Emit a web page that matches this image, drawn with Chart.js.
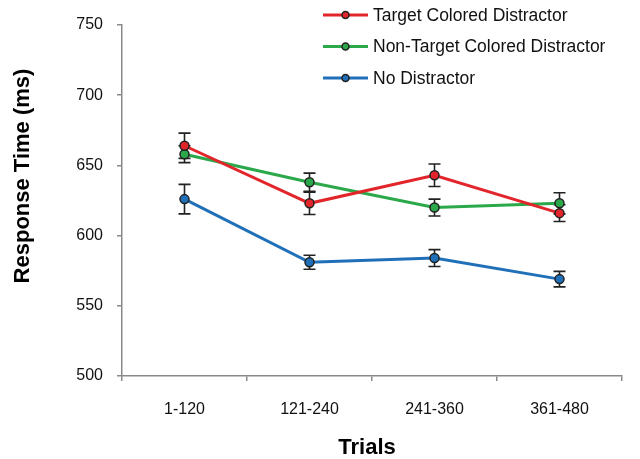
<!DOCTYPE html>
<html>
<head>
<meta charset="utf-8">
<script src="https://cdn.jsdelivr.net/npm/chart.js@4/dist/chart.umd.min.js"></script>
<style>
  html, body { margin: 0; padding: 0; background: #fff; }
  #wrap { width: 640px; height: 459px; position: relative; }
</style>
</head>
<body>
<div id="wrap"><canvas id="rtChart"></canvas></div>
<script>
// data
var trials = ['1-120', '121-240', '241-360', '361-480'];
var targetColored = [664, 623, 643, 616];
var targetColoredErr = [9, 8, 8, 6];
var nonTargetColored = [658, 638, 620, 623];
var nonTargetColoredErr = [6, 6.5, 6, 7.5];
var noDistractor = [626, 581, 584, 569];
var noDistractorErr = [10.5, 5, 6, 5.5];
var yTicks = [500, 550, 600, 650, 700, 750];

var seriesNames = ['Target Colored Distractor', 'Non-Target Colored Distractor', 'No Distractor'];
var seriesColors = ['#e2252b', '#2ba84a', '#1f70b8'];
var errors = [targetColoredErr, nonTargetColoredErr, noDistractorErr];
var fontFamily = '"Liberation Sans", Arial, sans-serif';

// draws the error bars using the chart scales
var errorBars = {
    id: 'errorBars',
    beforeDatasetsDraw: function (chart) {
        var ctx = chart.ctx;
        var y = chart.scales.y;
        ctx.save();
        ctx.strokeStyle = '#222';
        ctx.lineWidth = 1.6;
        chart.data.datasets.forEach(function (ds, i) {
            var meta = chart.getDatasetMeta(i);
            meta.data.forEach(function (pt, j) {
                var v = ds.data[j], e = errors[i][j];
                var top = y.getPixelForValue(v + e);
                var bot = y.getPixelForValue(v - e);
                ctx.beginPath();
                ctx.moveTo(pt.x, top); ctx.lineTo(pt.x, bot);
                ctx.moveTo(pt.x - 6, top); ctx.lineTo(pt.x + 6, top);
                ctx.moveTo(pt.x - 6, bot); ctx.lineTo(pt.x + 6, bot);
                ctx.stroke();
            });
        });
        ctx.restore();
    }
};

// legend drawn inside the plot, top right
var insideLegend = {
    id: 'insideLegend',
    afterDraw: function (chart) {
        var ctx = chart.ctx;
        var area = chart.chartArea;
        var x0 = area.left + 201;
        ctx.save();
        ctx.font = '17.5px ' + fontFamily;
        ctx.textBaseline = 'middle';
        seriesNames.forEach(function (name, i) {
            var yy = area.top - 10 + i * 31.5;
            ctx.strokeStyle = seriesColors[i];
            ctx.lineWidth = 3;
            ctx.beginPath();
            ctx.moveTo(x0, yy); ctx.lineTo(x0 + 45, yy);
            ctx.stroke();
            ctx.beginPath();
            ctx.arc(x0 + 22.5, yy, 3.5, 0, Math.PI * 2);
            ctx.fillStyle = seriesColors[i];
            ctx.fill();
            ctx.lineWidth = 1.5;
            ctx.strokeStyle = '#222';
            ctx.stroke();
            ctx.fillStyle = '#111';
            ctx.fillText(name, x0 + 50, yy + 1);
        });
        ctx.restore();
    }
};

// axis titles, placed like in the original figure
var axisTitles = {
    id: 'axisTitles',
    afterDraw: function (chart) {
        var ctx = chart.ctx;
        ctx.save();
        ctx.font = 'bold 22px ' + fontFamily;
        ctx.fillStyle = '#000';
        ctx.textAlign = 'center';
        ctx.textBaseline = 'middle';
        ctx.fillText('Trials', 367, 448);
        ctx.translate(23, 176);
        ctx.rotate(-Math.PI / 2);
        ctx.fillText('Response Time (ms)', 0, 0);
        ctx.restore();
    }
};

function makeSet(label, data, color) {
    return {
        label: label,
        data: data,
        borderColor: color,
        backgroundColor: color,
        borderWidth: 3,
        pointRadius: 4.5,
        pointBorderColor: '#222',
        pointBorderWidth: 1.5,
        pointBackgroundColor: color,
        tension: 0
    };
}

var ctx = document.getElementById('rtChart').getContext('2d');
new Chart(ctx, {
    type: 'line',
    data: {
        labels: trials,
        datasets: [
            makeSet(seriesNames[0], targetColored, seriesColors[0]),
            makeSet(seriesNames[1], nonTargetColored, seriesColors[1]),
            makeSet(seriesNames[2], noDistractor, seriesColors[2])
        ]
    },
    options: {
        responsive: true,
        maintainAspectRatio: false,
        animation: false,
        layout: { padding: { top: 25, right: 18, left: 0, bottom: 0 } },
        plugins: {
            legend: { display: false },
            tooltip: { enabled: false }
        },
        scales: {
            x: {
                offset: true,
                grid: { offset: true, drawOnChartArea: false, drawTicks: true, tickLength: 5, color: '#8a8a8a', lineWidth: 1.5 },
                border: { color: '#8a8a8a', width: 1.5 },
                ticks: { color: '#111', padding: 19, font: { family: fontFamily, size: 16 } },
                afterFit: function (s) { s.height = 83; }
            },
            y: {
                min: 500,
                max: 750,
                afterBuildTicks: function (s) { s.ticks = yTicks.map(function (v) { return { value: v }; }); },
                grid: { drawOnChartArea: false, drawTicks: true, tickLength: 5, color: '#8a8a8a', lineWidth: 1.5 },
                border: { color: '#8a8a8a', width: 1.5 },
                ticks: { color: '#111', padding: 14, font: { family: fontFamily, size: 16 } },
                afterFit: function (s) { s.width = 122; }
            }
        }
    },
    plugins: [errorBars, insideLegend, axisTitles]
});
</script>
</body>
</html>
